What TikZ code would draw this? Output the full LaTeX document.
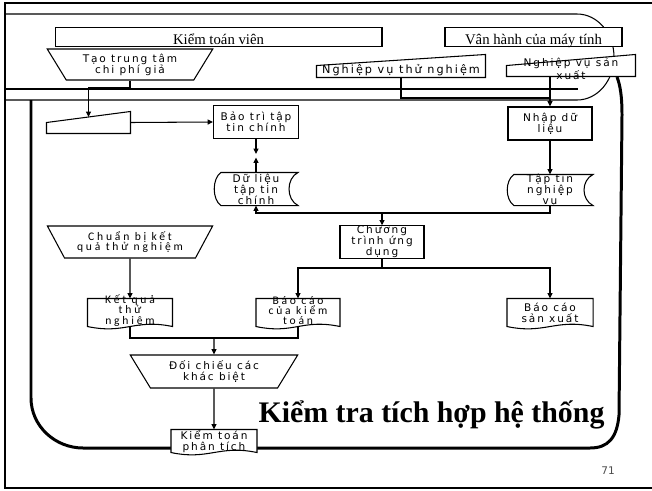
\documentclass[tikz,border=0pt]{standalone}
\usepackage{fontspec}
\setmainfont{Liberation Serif}
\newfontfamily\verfont[LetterSpace=18]{DejaVu Sans}
\newfontfamily\calfont[LetterSpace=24]{Carlito}
\newfontfamily\numfont{DejaVu Sans}
\usetikzlibrary{calc, shapes.geometric, arrows.meta}

\begin{document}
\begin{tikzpicture}[x=0.02cm, y=-0.02cm, line width=0.6pt,
    arr/.style={-{Triangle[length=3pt, width=2.8pt]}},
    vtxt/.style={font=\verfont\fontsize{6}{6.3}\selectfont, align=center, inner sep=0pt},
    ctxt/.style={font=\calfont\fontsize{6.6}{5.9}\selectfont, align=center, inner sep=0pt},
    hdr/.style={draw, fill=white, font=\fontsize{8.4}{9}\selectfont, inner xsep=0pt, inner ysep=0.4pt, text height=9.5pt, text depth=1pt},
    proc/.style={draw, fill=white, vtxt, minimum width=1.7cm, minimum height=0.66cm},
    manop/.style={draw, fill=white, trapezium, trapezium stretches=true, shape border rotate=180, trapezium angle=57, minimum height=0.64cm},
    blank/.style={inner sep=0pt}]
  \useasboundingbox (0,0) rectangle (652,490);
  \draw[line width=1.1pt] (652,3) -- (5,3) -- (5,488) -- (652,488);
  \draw (5,14) -- (577,14) .. controls (598,14) and (614,34) .. (614,57) .. controls (614,80) and (598,100) .. (577,100) -- (5,100);
  \draw[line width=1.7pt] (5,89) -- (578,89);
  \draw[line width=1.7pt] (617,77) .. controls (620,85) and (622,95) .. (622,115) -- (619,415) .. controls (617,438) and (608,448) .. (590,448) -- (83,448) .. controls (55,448) and (31,426) .. (31,398) -- (31,100);

  \node[hdr, minimum width=6.54cm] (ktv) at (218.5,37) {Kiểm toán viên};
  \node[hdr, minimum width=3.54cm] (vhmt) at (533.5,37) {Vân hành của máy tính};

  \node[blank, minimum width=3.36cm, minimum height=0.44cm] (nvtn) at (401,66) {};
  \node[blank, minimum width=2.56cm, minimum height=0.42cm] (nvsx) at (571,65.5) {};
  \node[blank, minimum width=1.66cm, minimum height=0.42cm] (ntay) at (88.5,122.5) {};
  \foreach \n/\d in {nvtn/12, nvsx/11, ntay/11}
    \draw[fill=white] ($(\n.south west)+(0,-\d)$) -- (\n.north east) -- (\n.south east) -- (\n.south west) -- cycle;

  \node[blank, minimum width=1.66cm, minimum height=0.64cm] (dl) at (256,189) {};
  \node[blank, minimum width=1.7cm, minimum height=0.6cm] (ttnv) at (550,190) {};
  \foreach \n in {dl, ttnv}
    \draw[fill=white] ($(\n.north west)+(7,0)$) -- (\n.north east) .. controls ($(\n.north east)+(-12,6)$) and ($(\n.south east)+(-12,-6)$) .. (\n.south east) -- ($(\n.south west)+(7,0)$) .. controls ($(\n.south west)+(-2,-6)$) and ($(\n.north west)+(-2,6)$) .. ($(\n.north west)+(7,0)$) -- cycle;

  \node[blank, minimum width=1.68cm, minimum height=0.54cm] (kq) at (130,312.5) {};
  \node[blank, minimum width=1.66cm, minimum height=0.54cm] (bck) at (298,312.5) {};
  \node[blank, minimum width=1.7cm, minimum height=0.54cm] (bcs) at (550,312.5) {};
  \node[blank, minimum width=1.7cm, minimum height=0.44cm] (ktpt) at (214,441) {};
  \foreach \n in {kq, bck, bcs, ktpt}
    \draw[fill=white] (\n.south west) -- (\n.north west) -- (\n.north east) -- (\n.south east) .. controls ($(\n.south east)+(-38,-8)$) and ($(\n.south west)+(38,8)$) .. (\n.south west) -- cycle;

  \node[vtxt, font=\verfont\fontsize{6.4}{6.4}\selectfont] (nvtn-t) at ($(nvtn)+(0,4)$) {Nghiệp vụ thử nghiệm};
  \node[vtxt] (nvsx-t) at ($(nvsx)+(0,3.5)$) {Nghiệp vụ sản\\xuất};
  \node[vtxt] (dl-t) at (dl) {Dữ liệu\\tập tin\\chính};
  \node[vtxt] (ttnv-t) at (ttnv) {Tập tin\\nghiệp\\vụ};
  \node[ctxt] (kq-t) at ($(kq)+(0,-2)$) {Kết quả\\thử\\nghiệm};
  \node[ctxt] (bck-t) at ($(bck)+(0,-2)$) {Báo cáo\\của kiểm\\toán};
  \node[vtxt] (bcs-t) at (bcs) {Báo cáo\\sản xuất};
  \node[vtxt] (ktpt-t) at ($(ktpt)+(0,1)$) {Kiểm toán\\phân tích};

  \node[proc] (bt) at (256,122) {Bảo trì tập\\tin chính};
  \node[proc, minimum width=1.68cm] (nd) at (550,123.5) {Nhập dữ\\liệu};
  \node[proc, minimum width=1.68cm, minimum height=0.64cm] (ctud) at (382,242) {Chương\\trình ứng\\dụng};

  \node[manop, vtxt, minimum width=3.32cm, minimum height=0.62cm] (ttcp) at (130,64.5) {Tạo trung tâm\\chi phí giả};
  \node[manop, ctxt, minimum width=3.32cm] (cbkq) at (130,242) {Chuẩn bị kết\\quả thử nghiệm};
  \node[manop, vtxt, minimum width=3.36cm, minimum height=0.66cm] (dcct) at (214,371.5) {Đối chiếu các\\khác biệt};

  \node[font=\bfseries\fontsize{17}{17}\selectfont, anchor=base west, inner sep=0pt] (ttl) at (258,422) {Kiểm tra tích hợp hệ thống};
  \node[font=\numfont\fontsize{6}{6}\selectfont, text=black!70] (pg) at (608,471) {71};

  \draw[arr] (ttcp.south) -- ++(0,7) -| ($(ntay.north)+(0,5.5)$);
  \draw[arr] (ntay.east) -- (bt.west);
  \coordinate (mg) at ($(bt.south)!0.5!(dl.north)$);
  \draw[arr] (bt.south) -- ([yshift=1pt]mg);
  \draw[arr] (dl.north) -- ([yshift=-1pt]mg);
  \coordinate (jn) at (550,98);
  \draw (nvtn.south) |- (jn);
  \draw[arr] (nvsx.south -| nd.north) -- (nd.north);
  \draw[arr] (nd.south) -- (ttnv.north);
  \coordinate (bus) at (382,213);
  \draw[arr] (ttnv.south) |- (bus -| dl.south) -- (dl.south);
  \draw[arr] (bus) -- (ctud.north);
  \coordinate (bus2) at (382,268);
  \draw (ctud.south) -- (bus2);
  \draw[arr] (bus2) -| (bck.north);
  \draw[arr] (bus2) -| (bcs.north);
  \draw[arr] (cbkq.south) -- (kq.north);
  \coordinate (bus3) at (214,338);
  \draw (kq.south) |- (bus3) -| (bck.south);
  \draw[arr] (bus3) -- (dcct.north);
  \draw[arr] (dcct.south) -- (ktpt.north);
\end{tikzpicture}
\end{document}
